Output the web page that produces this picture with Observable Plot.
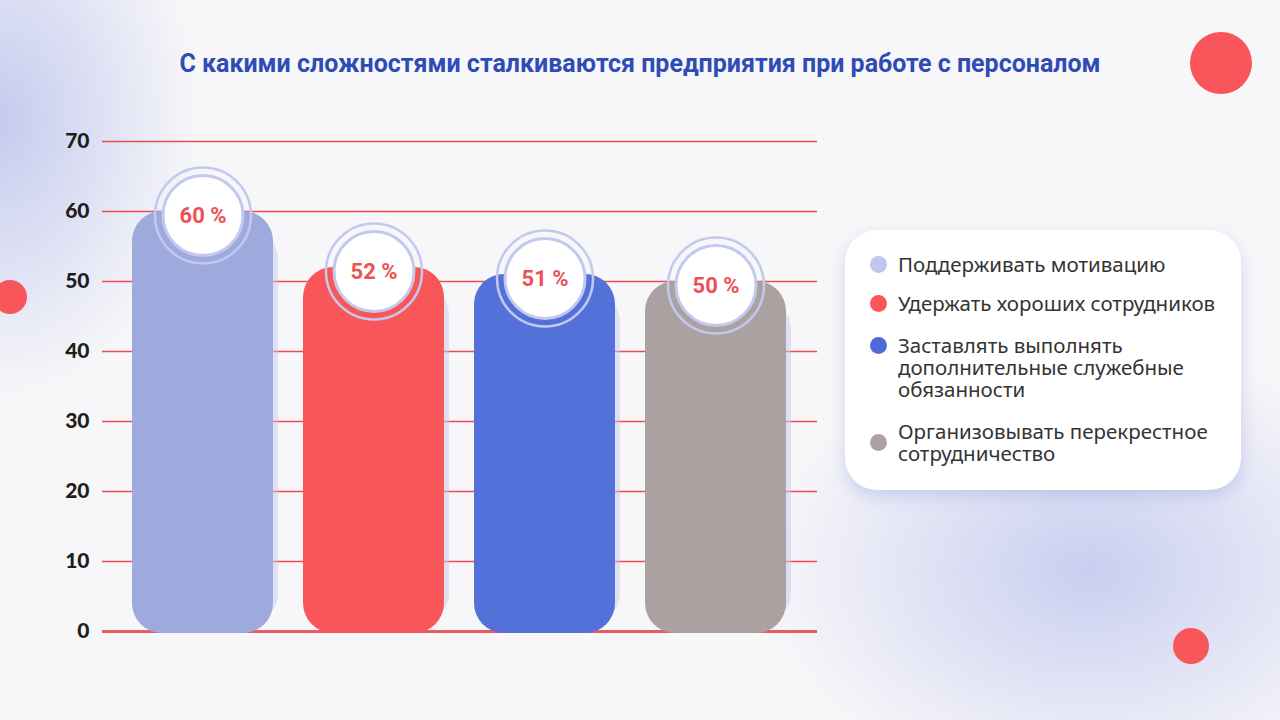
<!DOCTYPE html>
<html><head><meta charset="utf-8">
<script src="https://cdn.jsdelivr.net/npm/d3@7"></script>
<script src="https://cdn.jsdelivr.net/npm/@observablehq/plot@0.6"></script>
<style>
html,body{margin:0;padding:0;}
body{width:1280px;height:720px;overflow:hidden;position:relative;
 background:
  radial-gradient(ellipse 200px 280px at 0px 120px, rgba(180,188,235,0.75), rgba(180,188,235,0) 100%),
  radial-gradient(ellipse 330px 230px at 1090px 570px, rgba(190,196,238,0.8), rgba(190,196,238,0) 100%),
  #f7f7f9;}
#title{position:absolute;left:0;width:1280px;top:49px;text-align:center;font:700 25px Roboto,sans-serif;color:#2f4bb6;}
.deco{position:absolute;border-radius:50%;background:#f9565b;}
#chart{position:absolute;left:0;top:0;}
#legend{position:absolute;left:845px;top:230px;width:396px;height:260px;box-sizing:border-box;background:#fff;border-radius:32px;
 box-shadow:0 6px 16px rgba(160,168,225,0.45);padding:23px 10px 0 25px;font:20.5px "Noto Sans",sans-serif;color:#333;}
.item{display:flex;line-height:22px;margin-bottom:17px;}
.dot{width:17px;height:17px;border-radius:50%;flex:none;margin-right:11px;margin-top:2.5px;}
</style></head>
<body>
<div id="title">С какими сложностями сталкиваются предприятия при работе с персоналом</div>
<div class="deco" style="left:1190px;top:32px;width:62px;height:62px"></div>
<div class="deco" style="left:-7px;top:280px;width:34px;height:34px"></div>
<div class="deco" style="left:1173px;top:628px;width:36px;height:36px"></div>
<div id="chart"></div>
<div id="legend"></div>
<script>
const categories = ["Поддерживать мотивацию","Удержать хороших сотрудников","Заставлять выполнять дополнительные служебные обязанности","Организовывать перекрестное сотрудничество"];
const values = [60, 52, 51, 50];
const labels = ["60 %","52 %","51 %","50 %"];
const barColors = ["#9ea9dd","#f9565a","#5371d8","#aba1a0"];
const legendColors = ["#c0c6ee","#f9565a","#4f6ad6","#aba1a0"];
const yTicks = [0,10,20,30,40,50,60,70];

const data = categories.map((c,i)=>({cat:c, value:values[i], label:labels[i], color:barColors[i]}));

const chart = Plot.plot({
  width: 830, height: 680,
  marginLeft: 102, marginRight: 13, marginTop: 141, marginBottom: 49,
  style: {background:"transparent", overflow:"visible"},
  x: {domain: categories, paddingInner: 0.174, paddingOuter: 0.166, axis: null},
  y: {domain: [0,70], ticks: yTicks, label: null},
  marks: [
    Plot.gridY(yTicks.filter(d=>d>0), {stroke:"#ee4a51", strokeWidth:1.3, strokeOpacity:1}),
    Plot.ruleY([0], {stroke:"#ec5a5e", strokeWidth:3}),
    Plot.axisY(yTicks, {tickSize:0, tickPadding:13, fontSize:21, fontWeight:900, fontFamily:"Lato, sans-serif", fill:"#1e1e1e", label:null}),
    Plot.barY(data, {x:"cat", y:"value", fill:"#c6cbef", rx:30, dx:5, insetTop:18, insetBottom:8, fillOpacity:0.5}),
    Plot.barY(data, {x:"cat", y:"value", fill:"color", rx:30, insetBottom:-2}),
    Plot.dot(data, {x:"cat", y:"value", dy:4, r:48, fill:"none", stroke:"#c3c8ee", strokeWidth:2.5}),
    Plot.dot(data, {x:"cat", y:"value", dy:4, r:40, fill:"#ffffff", stroke:"#c3c8ee", strokeWidth:3}),
    Plot.text(data, {x:"cat", y:"value", dy:4, text:"label", fill:"#ef4f56", fontSize:22, fontWeight:700, fontFamily:"Roboto, sans-serif"})
  ]
});
document.getElementById("chart").append(chart);

const lg = document.getElementById("legend");
categories.forEach((c,i)=>{
  const it = document.createElement("div");
  it.className = "item";
  if (i === 3) it.style.alignItems = "center";
  const d = document.createElement("div");
  d.className = "dot";
  d.style.background = legendColors[i];
  if (i === 3) d.style.marginTop = "0";
  if (i === 1) it.style.marginBottom = "20px";
  if (i === 2) it.style.marginBottom = "20px";
  const t = document.createElement("div");
  t.textContent = c;
  if (i === 2) t.style.width = "320px";
  it.append(d,t);
  lg.append(it);
});
</script>
</body></html>
